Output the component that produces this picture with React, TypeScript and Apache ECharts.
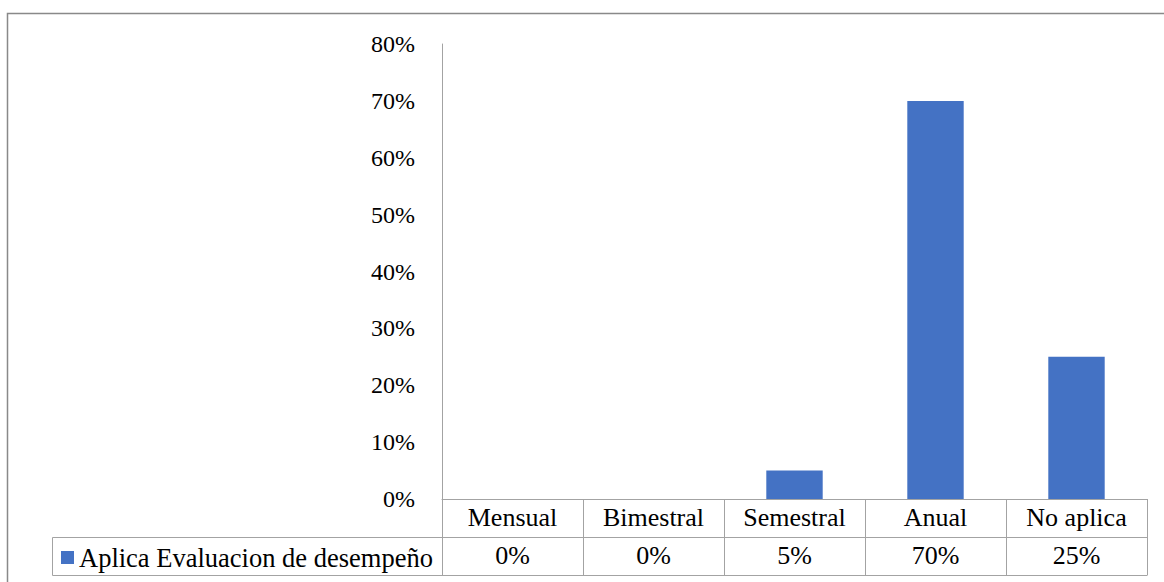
import React, { useEffect, useRef } from "react";
import * as echarts from "echarts";

const categories = ["Mensual", "Bimestral", "Semestral", "Anual", "No aplica"];
const values = [0, 0, 5, 70, 25];
const seriesName = "Aplica Evaluacion de desempeño";
const yTicks = [0, 10, 20, 30, 40, 50, 60, 70, 80];

const FONT = "Times New Roman, Liberation Serif, DejaVu Serif, serif";
const LINE = "#A3A3A3";
const TEXT = "#000000";

export default function App() {
  const ref = useRef<HTMLDivElement>(null);
  useEffect(() => {
    const chart = echarts.init(ref.current!, null, { renderer: "svg" });
    chart.setOption({
      animation: false,
      backgroundColor: "#ffffff",
      textStyle: { fontFamily: FONT },
      grid: { left: 442, right: 17, top: 44, bottom: 83, containLabel: false },
      legend: {
        show: true,
        data: [seriesName],
        left: 56,
        top: 539,
        icon: "rect",
        itemWidth: 13,
        itemHeight: 13,
        textStyle: { fontFamily: FONT, fontSize: 26.5, color: TEXT },
        selectedMode: false,
      },
      xAxis: [
        {
          type: "category",
          data: categories,
          position: "bottom",
          axisLine: { show: true, lineStyle: { color: LINE, width: 1 } },
          axisTick: { show: true, length: 76, lineStyle: { color: LINE, width: 1 } },
          axisLabel: {
            margin: 18,
            verticalAlign: "middle",
            fontFamily: FONT,
            fontSize: 26,
            color: TEXT,
          },
        },
        {
          type: "category",
          data: values.map((v) => v + "%"),
          position: "bottom",
          offset: 0,
          axisLine: { show: false },
          axisTick: { show: false },
          axisLabel: {
            margin: 56,
            verticalAlign: "middle",
            fontFamily: FONT,
            fontSize: 26,
            color: TEXT,
          },
        },
      ],
      yAxis: {
        type: "value",
        min: yTicks[0],
        max: yTicks[yTicks.length - 1],
        interval: 10,
        axisLine: { show: true, lineStyle: { color: LINE, width: 1 } },
        axisTick: { show: false },
        splitLine: { show: false },
        axisLabel: {
          margin: 27,
          formatter: "{value}%",
          fontFamily: FONT,
          fontSize: 24,
          color: TEXT,
        },
      },
      series: [
        {
          name: seriesName,
          type: "bar",
          xAxisIndex: 0,
          data: values,
          barWidth: "40%",
          itemStyle: { color: "#4472C4" },
        },
      ],
      graphic: [
        {
          type: "rect",
          shape: { x: 7.5, y: 13.5, width: 1170, height: 600 },
          style: { fill: "none", stroke: "#898989", lineWidth: 1.5 },
          silent: true,
        },
        {
          type: "line",
          shape: { x1: 52.5, y1: 537.5, x2: 1147.5, y2: 537.5 },
          style: { stroke: LINE, lineWidth: 1 },
          silent: true,
        },
        {
          type: "line",
          shape: { x1: 52.5, y1: 575.5, x2: 1147.5, y2: 575.5 },
          style: { stroke: LINE, lineWidth: 1 },
          silent: true,
        },
        {
          type: "line",
          shape: { x1: 52.5, y1: 537.5, x2: 52.5, y2: 575.5 },
          style: { stroke: LINE, lineWidth: 1 },
          silent: true,
        },
      ],
    });
    return () => chart.dispose();
  }, []);
  return (
    <div
      ref={ref}
      style={{ position: "absolute", left: 0, top: 0, width: 1164, height: 582 }}
    />
  );
}
